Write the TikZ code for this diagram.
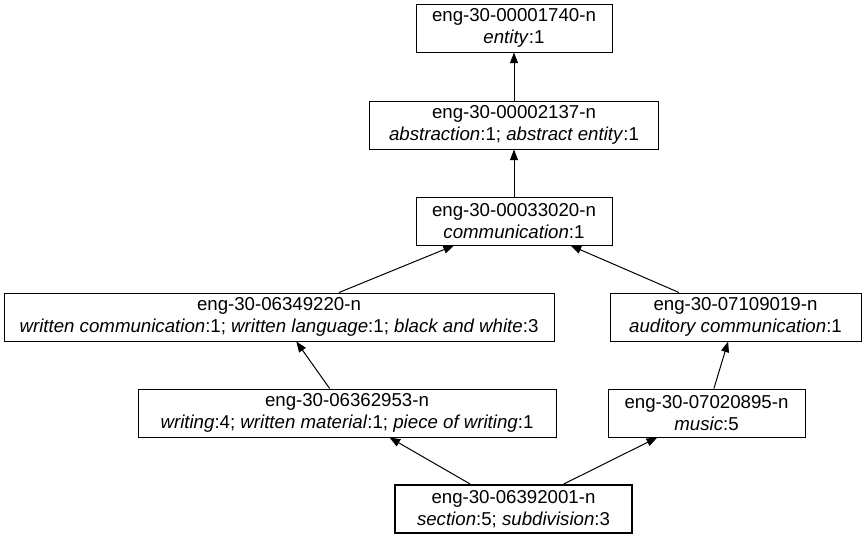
\documentclass[tikz,border=0pt]{standalone}
\usepackage{fontspec}
\setmainfont{Liberation Sans}
\usetikzlibrary{arrows.meta}

\begin{document}
\begin{tikzpicture}[
  x=0.75pt, y=-0.75pt,
  font=\fontsize{14}{16.5}\selectfont,
  synset/.style={draw, line width=0.75pt, inner sep=0pt,
    minimum height=36pt, align=center},
  hypernym/.style={-{Triangle[length=8pt, width=6pt]}, line width=0.75pt}
]

\useasboundingbox (0,0) rectangle (867,539);

% synset nodes
\node[synset, minimum width=147pt] (entity) at (514,28)
{eng-30-00001740-n\\
\textit{entity}:1};

\node[synset, minimum width=216.75pt] (abstraction) at (514,125)
{eng-30-00002137-n\\
\textit{abstraction}:1; \textit{abstract entity}:1};

\node[synset, minimum width=147pt] (communication) at (514,221)
{eng-30-00033020-n\\
\textit{communication}:1};

\node[synset, minimum width=412.5pt] (written) at (279,317)
{eng-30-06349220-n\\
\textit{written communication}:1; \textit{written language}:1; \textit{black and white}:3};

\node[synset, minimum width=188.25pt] (auditory) at (735.5,317)
{eng-30-07109019-n\\
\textit{auditory communication}:1};

\node[synset, minimum width=313.5pt] (writing) at (347,413)
{eng-30-06362953-n\\
\textit{writing}:4; \textit{written material}:1; \textit{piece of writing}:1};

\node[synset, minimum width=147.75pt] (music) at (706.5,413)
{eng-30-07020895-n\\
\textit{music}:5};

\node[synset, line width=1.5pt, minimum width=177.75pt] (section) at (513.5,509)
{eng-30-06392001-n\\
\textit{section}:5; \textit{subdivision}:3};

% hypernym links
\draw[hypernym] (abstraction) -- (entity);
\draw[hypernym] (communication) -- (abstraction);
\draw[hypernym] (written) -- (communication);
\draw[hypernym] (auditory) -- (communication);
\draw[hypernym] (writing) -- (written);
\draw[hypernym] (music) -- (auditory);
\draw[hypernym] (section) -- (writing);
\draw[hypernym] (section) -- (music);

\end{tikzpicture}
\end{document}
